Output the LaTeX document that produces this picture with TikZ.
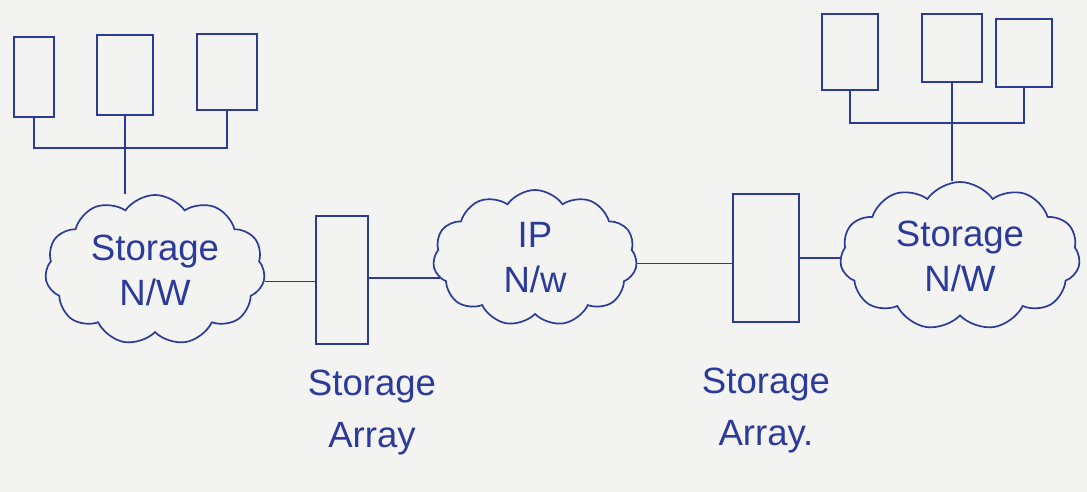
\documentclass[tikz,border=0pt]{standalone}
\usepackage{fontspec}
\setmainfont{Liberation Sans}
\usepackage{xcolor}
\definecolor{Pen}{HTML}{2C3A9A}
\definecolor{Paper}{HTML}{F3F3F1}
\usepackage{tikz}
\usetikzlibrary{shapes.symbols,positioning}

\begin{document}
\begin{tikzpicture}[x=0.025cm,y=-0.025cm,line width=1.2pt,
  server/.style={draw=Pen,inner sep=0pt},
  array/.style={draw=Pen,inner sep=0pt,minimum width=1.3cm,minimum height=3.2cm},
  net/.style={draw=Pen,cloud,cloud puffs=11,cloud puff arc=110,aspect=1.5,inner sep=0pt,align=center,text=Pen,font=\fontsize{26}{32}\selectfont},
  lbl/.style={text=Pen,align=center,inner sep=0pt,font=\fontsize{26}{37}\selectfont}]
\fill[Paper] (0,0) rectangle (1087,492);
\useasboundingbox (0,0) rectangle (1087,492);
\foreach \n/\x/\y/\w/\h in {ls1/34/77/1.0/2.0,ls2/125/75/1.4/2.0,ls3/227/72/1.5/1.9,rs1/850/52/1.4/1.9,rs2/952/48/1.5/1.7,rs3/1024/53/1.4/1.7}
  \node[server,minimum width=\w cm,minimum height=\h cm] (\n) at (\x,\y) {};
\node[net,minimum width=5.5cm,minimum height=3.75cm] (lnet) at (155,270) {Storage\\N/W};
\node[net,minimum width=5.1cm,minimum height=3.4cm] (ipnet) at (535,258) {IP\\N/w};
\node[net,minimum width=6cm,minimum height=3.7cm] (rnet) at (960,256) {Storage\\N/W};
\node[array] (arr1) at (342,280) {};
\node[array,minimum width=1.65cm] (arr2) at (766,258) {};
\node[lbl,below=0.6cm of arr1,xshift=0.75cm] (lab1) {Storage\\Array};
\node[lbl,below=1.1cm of arr2] (lab2) {Storage\\Array.};
\coordinate (lbus) at (ls2.south |- 0,148);
\coordinate (rbus) at (rs2.south |- 0,123);
\draw[Pen] (ls1.south) |- (lbus) -| (ls3.south);
\draw[Pen] (ls2.south) -- (lbus) -- (lbus |- lnet.north);
\draw[Pen] (rs1.south) |- (rbus) -| (rs3.south);
\draw[Pen] (rs2.south) -- (rbus) -- (rbus |- rnet.north);
\draw[Pen] (lnet.-6) -- (lnet.-6 -| arr1.west);
\draw[Pen] (ipnet.192 -| arr1.east) -- (ipnet.192);
\draw[Pen] (ipnet.-3) -- (ipnet.-3 -| arr2.west);
\draw[Pen] (arr2.east) -- (arr2.east -| rnet.west);
\end{tikzpicture}
\end{document}
